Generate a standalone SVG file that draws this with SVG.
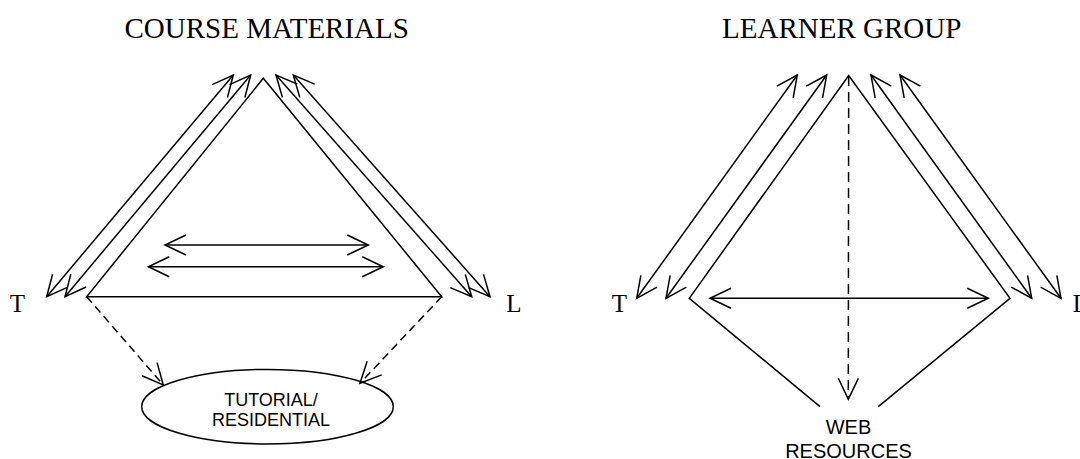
<svg xmlns="http://www.w3.org/2000/svg" width="1080" height="459" viewBox="0 0 1080 459">
<style>
.ln{fill:none;stroke:#000;stroke-width:1.5}
.ar{fill:none;stroke:#000;stroke-width:1.5;marker-start:url(#ah);marker-end:url(#ah)}
.ae{fill:none;stroke:#000;stroke-width:1.5;marker-end:url(#ah)}
.d1{stroke-dasharray:8,5}
.d2{stroke-dasharray:10,6}
.ttl{font-family:"Liberation Serif","Times New Roman",serif;font-size:29px;fill:#000;text-anchor:middle}
.lab{font-family:"Liberation Serif","Times New Roman",serif;font-size:25px;fill:#000;text-anchor:middle}
.sm{font-family:"Liberation Sans",Arial,sans-serif;fill:#000;text-anchor:middle}
</style>
<defs>
<marker id="ah" viewBox="-25 -13 28 26" refX="0" refY="0" markerWidth="28" markerHeight="26" markerUnits="userSpaceOnUse" orient="auto-start-reverse">
<path d="M-21,-10 L0,0 L-21,10" fill="none" stroke="#000" stroke-width="1.5"/>
</marker>
</defs>
<rect width="1080" height="459" fill="#fff"/>
<g id="connectors">
<!-- left diagram -->
<polygon class="ln" points="263.3,78.3 86.7,296.7 441.7,296.7"/>
<line class="ar" x1="46.7" y1="296.7" x2="233.3" y2="75"/>
<line class="ar" x1="65" y1="296.7" x2="250.7" y2="75"/>
<line class="ar" x1="276" y1="75" x2="471.7" y2="296.7"/>
<line class="ar" x1="293.3" y1="75" x2="490" y2="296.7"/>
<line class="ar" x1="165" y1="245" x2="368.3" y2="245"/>
<line class="ar" x1="148.3" y1="266.7" x2="383.3" y2="266.7"/>
<line class="ae d1" x1="86.7" y1="296.7" x2="163.3" y2="385"/>
<line class="ae d1" x1="441.7" y1="296.7" x2="360" y2="383.3"/>
<!-- right diagram -->
<polyline class="ln" points="820,406.7 689.3,298.3 848.7,75.5 1010,298.3 878.3,406.7"/>
<line class="ar" x1="636.7" y1="298.3" x2="797.3" y2="75"/>
<line class="ar" x1="666" y1="298.3" x2="826.7" y2="75"/>
<line class="ar" x1="871" y1="75" x2="1031.7" y2="298.3"/>
<line class="ar" x1="900" y1="75" x2="1061" y2="298.3"/>
<line class="ar" x1="710" y1="298.3" x2="988.3" y2="298.3"/>
<line class="ae d2" x1="848.7" y1="76" x2="848.3" y2="399.3"/>
</g>
<g id="course-materials"><text class="ttl" x="266.7" y="38">COURSE MATERIALS</text></g>
<g id="t-left"><text class="lab" x="17.5" y="312">T</text></g>
<g id="l-left"><text class="lab" x="514" y="312">L</text></g>
<g id="tutorial">
<ellipse class="ln" cx="267.5" cy="406.7" rx="125.8" ry="37.3"/>
<text class="sm" font-size="18" x="271" y="406">TUTORIAL/</text>
<text class="sm" font-size="18" x="271" y="425.7">RESIDENTIAL</text>
</g>
<g id="learner-group"><text class="ttl" x="841.7" y="38">LEARNER GROUP</text></g>
<g id="t-right"><text class="lab" x="619.5" y="312">T</text></g>
<g id="l-right"><text class="lab" x="1080.5" y="312">L</text></g>
<g id="web-resources">
<text class="sm" font-size="20" x="848.5" y="434">WEB</text>
<text class="sm" font-size="20" x="848.5" y="458">RESOURCES</text>
</g>
</svg>
